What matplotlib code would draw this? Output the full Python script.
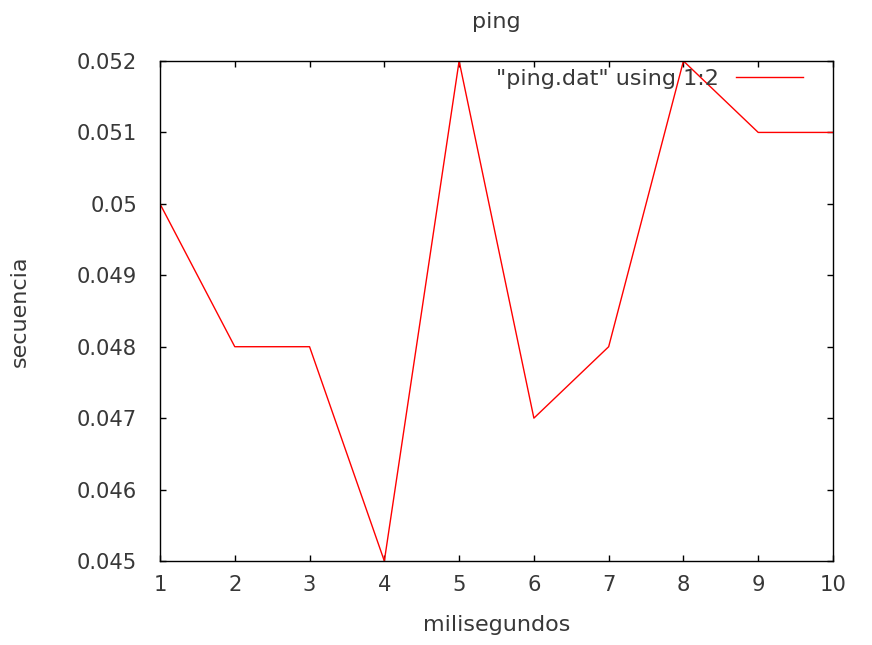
import matplotlib
matplotlib.use("Agg")
import matplotlib.pyplot as plt

x = [1, 2, 3, 4, 5, 6, 7, 8, 9, 10]
y = [0.050, 0.048, 0.048, 0.045, 0.052, 0.047, 0.048, 0.052, 0.051, 0.051]
yticks = [0.045, 0.046, 0.047, 0.048, 0.049, 0.050, 0.051, 0.052]
ytick_labels = ["0.045", "0.046", "0.047", "0.048", "0.049", "0.05", "0.051", "0.052"]
xticks = list(range(1, 11))

plt.rcParams['font.family'] = ['DejaVu Sans']
txt = '#383838'
fig = plt.figure(figsize=(8.72, 6.45), dpi=100)
ax = fig.add_axes([160/872, 84/645, 673/872, 500/645])
ax.plot(x, y, color='#ff0000', lw=1.0, label='"ping.dat" using 1:2')
ax.set_xlim(1, 10)
ax.set_ylim(0.045, 0.052)
ax.set_xticks(xticks)
ax.set_xticklabels([str(v) for v in xticks])
ax.set_yticks(yticks)
ax.set_yticklabels(ytick_labels)
ax.tick_params(direction='in', length=4.5, width=1, top=True, right=True,
               labelsize=15.2, labelcolor=txt, color='black')
ax.tick_params(axis='x', pad=10)
ax.tick_params(axis='y', pad=16.5)
for s in ax.spines.values():
    s.set_linewidth(1.0)
ax.set_title('ping', fontsize=16, color=txt, pad=24)
ax.set_xlabel('milisegundos', fontsize=16, color=txt, labelpad=14.5)
ax.set_ylabel('secuencia', fontsize=16, color=txt, labelpad=33.5)
leg = ax.legend(loc='upper right', frameon=False, fontsize=16, markerfirst=False,
                handlelength=3.0, handletextpad=0.8, borderaxespad=0, borderpad=0)
for t in leg.get_texts():
    t.set_color(txt)
leg.set_bbox_to_anchor((803/872, 1 - 69/645), transform=fig.transFigure)
fig.savefig('out.png', dpi=100)
